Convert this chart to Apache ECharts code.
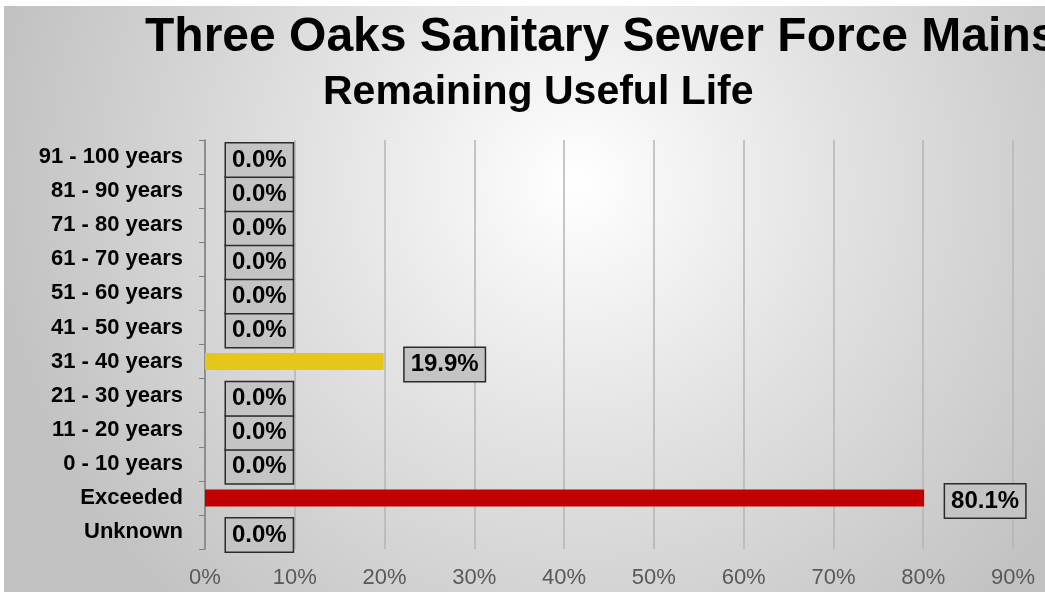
<!DOCTYPE html>
<html>
<head>
<meta charset="utf-8">
<script src="https://cdn.jsdelivr.net/npm/echarts@6/dist/echarts.min.js"></script>
<style>
  html, body { margin: 0; padding: 0; background: #fff; }
  #chart { position: absolute; left: 4px; top: 6px; width: 1041px; height: 586px; }
</style>
</head>
<body>
<div id="chart"></div>
<script>
// categories from bottom to top
const categories = ['Unknown', 'Exceeded', '0 - 10 years', '11 - 20 years', '21 - 30 years',
  '31 - 40 years', '41 - 50 years', '51 - 60 years', '61 - 70 years', '71 - 80 years',
  '81 - 90 years', '91 - 100 years']
const shares = [0.0, 80.1, 0.0, 0.0, 0.0, 19.9, 0.0, 0.0, 0.0, 0.0, 0.0, 0.0]
const barColors = {'Exceeded': '#c00000', '31 - 40 years': '#e6c619'}

const chart = echarts.init(document.getElementById('chart'))

chart.setOption({
  backgroundColor: {
    type: 'radial',
    x: 0.55,
    y: 0.3,
    r: 1.0,
    colorStops: [
      {offset: 0, color: '#ffffff'},
      {offset: 0.45, color: '#e2e2e2'},
      {offset: 1, color: '#c2c2c2'}
    ]
  },
  title: [
    {
      text: 'Three Oaks Sanitary Sewer Force Mains',
      left: 136,
      top: 3,
      textStyle: {fontFamily: 'Liberation Sans', fontWeight: 'bold', fontSize: 48, color: '#000'}
    },
    {
      text: 'Remaining Useful Life',
      left: 314,
      top: 61,
      textStyle: {fontFamily: 'Liberation Sans', fontWeight: 'bold', fontSize: 41, color: '#000'}
    }
  ],
  grid: {
    left: 201,
    right: 32,
    top: 134,
    bottom: 43
  },
  xAxis: {
    type: 'value',
    min: 0,
    max: 90,
    interval: 10,
    axisLabel: {
      formatter: '{value}%',
      fontFamily: 'Liberation Sans',
      fontSize: 22,
      color: '#595959',
      margin: 18
    },
    axisLine: {show: false},
    axisTick: {show: false},
    splitLine: {
      lineStyle: {color: '#b4b4b4', width: 1.5}
    }
  },
  yAxis: {
    type: 'category',
    data: categories,
    axisLabel: {
      fontFamily: 'Liberation Sans',
      fontWeight: 'bold',
      fontSize: 22,
      color: '#000',
      margin: 22,
      padding: [6, 0, 0, 0]
    },
    axisTick: {
      show: true,
      length: 6,
      lineStyle: {color: '#7f7f7f'}
    },
    axisLine: {
      lineStyle: {color: '#7f7f7f', width: 1.5}
    }
  },
  series: [
    {
      type: 'bar',
      barWidth: 17,
      data: shares.map((v, i) => ({
        value: v,
        itemStyle: {color: barColors[categories[i]] || '#999'}
      })),
      label: {
        show: true,
        position: 'right',
        distance: 21,
        offset: [0, 3],
        formatter: p => p.value.toFixed(1) + '%',
        fontFamily: 'Liberation Sans',
        fontWeight: 'bold',
        fontSize: 24,
        color: '#000',
        backgroundColor: '#c4c4c4',
        borderColor: '#2b2b2b',
        borderWidth: 1.5,
        padding: [5, 6, 4, 6]
      }
    }
  ]
})
</script>
</body>
</html>
